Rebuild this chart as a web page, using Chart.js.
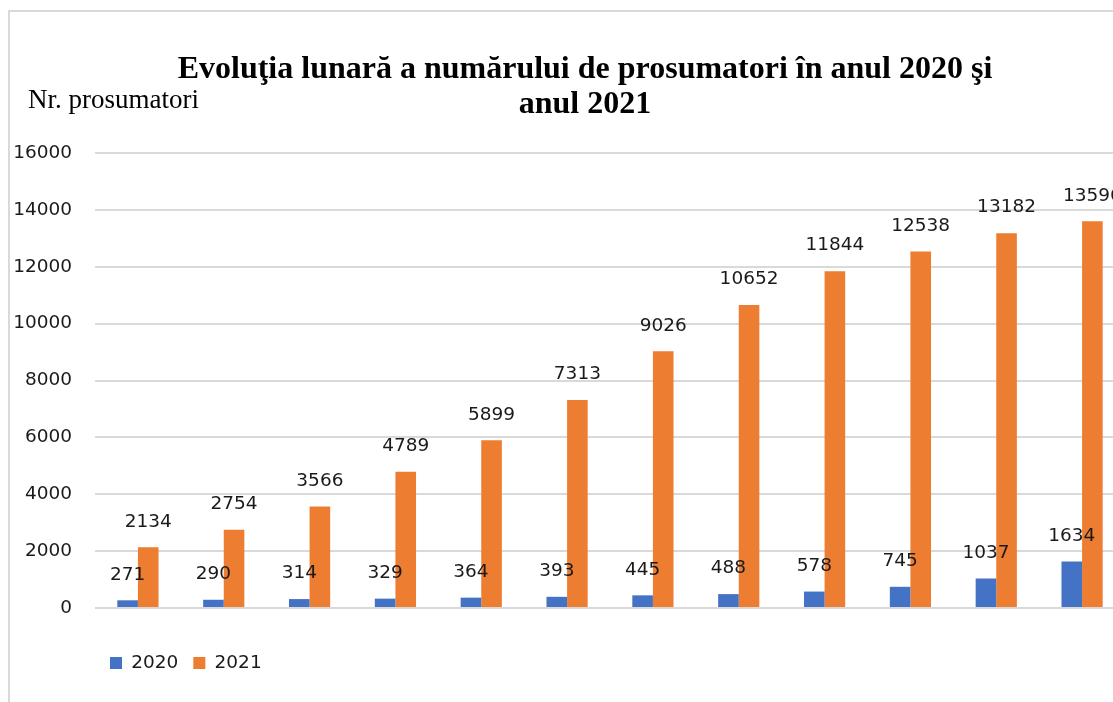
<!DOCTYPE html>
<html>
<head>
<meta charset="utf-8">
<script src="https://cdn.jsdelivr.net/npm/chart.js@4/dist/chart.umd.min.js"></script>
<style>
  html, body { margin: 0; padding: 0; background: #fff; overflow: hidden; width: 1113px; height: 702px; }
  #frame { position: absolute; left: 8px; top: 10px; width: 1200px; height: 800px;
           border-left: 2px solid #d9d9d9; border-top: 2px solid #d9d9d9; box-sizing: border-box; }
  #wrap { position: absolute; left: 0; top: 0; width: 1140px; height: 702px; }
</style>
</head>
<body>
<div id="frame"></div>
<div id="wrap"><canvas id="c" width="1140" height="702"></canvas></div>
<script>
const months = ['Ian', 'Feb', 'Mar', 'Apr', 'Mai', 'Iun', 'Iul', 'Aug', 'Sep', 'Oct', 'Noi', 'Dec'];
const values2020 = [271, 290, 314, 329, 364, 393, 445, 488, 578, 745, 1037, 1634];
const values2021 = [2134, 2754, 3566, 4789, 5899, 7313, 9026, 10652, 11844, 12538, 13182, 13596];
const seriesNames = ['2020', '2021'];
const titleLines = ['Evoluţia lunară a numărului de prosumatori în anul 2020 şi', 'anul 2021'];
const yAxisTitle = 'Nr. prosumatori';
const yMin = 0, yMax = 16000, yStep = 2000;

const sansFont = 'DejaVu Sans';
const serifFont = 'Liberation Serif';

const valueLabels = {
  id: 'valueLabels',
  afterDatasetsDraw(chart) {
    const ctx = chart.ctx;
    ctx.save();
    ctx.font = '18.5px "' + sansFont + '"';
    ctx.fillStyle = '#1a1a1a';
    ctx.textAlign = 'center';
    ctx.textBaseline = 'middle';
    chart.data.datasets.forEach((ds, di) => {
      const meta = chart.getDatasetMeta(di);
      meta.data.forEach((el, i) => {
        ctx.fillText(String(ds.data[i]), el.x, el.y - 25.5);
      });
    });
    ctx.restore();
  }
};

const headerTexts = {
  id: 'headerTexts',
  afterDraw(chart) {
    const ctx = chart.ctx;
    ctx.save();
    ctx.fillStyle = '#000';
    ctx.textBaseline = 'middle';
    ctx.textAlign = 'center';
    ctx.font = 'bold 32px "' + serifFont + '"';
    titleLines.forEach((line, i) => ctx.fillText(line, 585, 70 + i * 35));
    ctx.textAlign = 'left';
    ctx.textBaseline = 'alphabetic';
    ctx.font = '27px "' + serifFont + '"';
    ctx.fillText(yAxisTitle, 28, 108);
    ctx.restore();
  }
};

new Chart(document.getElementById('c'), {
  type: 'bar',
  data: {
    labels: months,
    datasets: [
      { label: seriesNames[0], data: values2020, backgroundColor: '#4472C4', borderWidth: 0 },
      { label: seriesNames[1], data: values2021, backgroundColor: '#ED7D31', borderWidth: 0 }
    ]
  },
  options: {
    responsive: false,
    animation: false,
    devicePixelRatio: 1,
    layout: { padding: { top: 153, left: 8, right: 15, bottom: 19.75 } },
    datasets: { bar: { categoryPercentage: 0.48, barPercentage: 1 } },
    scales: {
      x: {
        display: true,
        grid: { display: false, drawTicks: false },
        border: { display: false },
        ticks: { display: false },
        afterFit(s) { s.height = 30.75; }
      },
      y: {
        min: yMin, max: yMax,
        ticks: { stepSize: yStep, padding: 23, color: '#1a1a1a',
                 font: { family: sansFont, size: 18.5 },
                 callback: v => String(v) },
        grid: { color: '#d9d9d9', lineWidth: 2, drawTicks: false },
        border: { display: false },
        afterFit(s) { s.width = 87; }
      }
    },
    plugins: {
      title: { display: false },
      legend: {
        position: 'bottom',
        align: 'start',
        fullSize: false,
        labels: {
          boxWidth: 12, boxHeight: 12, padding: 15,
          color: '#1a1a1a',
          font: { family: sansFont, size: 18.5 }
        }
      },
      tooltip: { enabled: false }
    }
  },
  plugins: [valueLabels, headerTexts]
});
</script>
</body>
</html>
